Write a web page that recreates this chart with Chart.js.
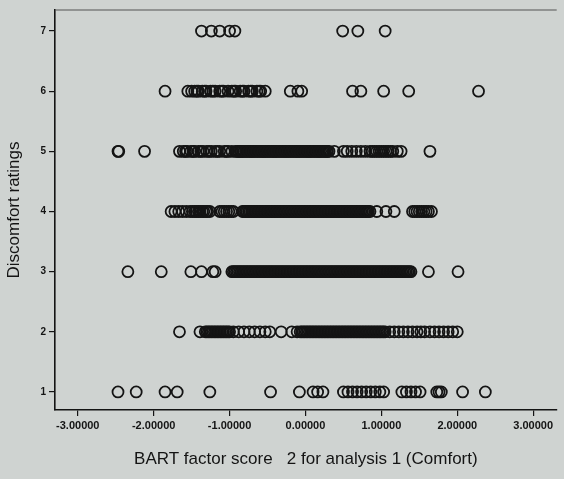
<!DOCTYPE html>
<html>
<head>
<meta charset="utf-8">
<script src="https://cdn.jsdelivr.net/npm/chart.js@4.4.1/dist/chart.umd.min.js"></script>
<style>
  html, body { margin: 0; padding: 0; background: #cfd3d1; }
  #wrap { width: 564px; height: 479px; }
</style>
</head>
<body>
<div id="wrap"><canvas id="scatter" width="564" height="479"></canvas></div>
<script>
const ratings = [1, 2, 3, 4, 5, 6, 7];
const xTickValues = [-3, -2, -1, 0, 1, 2, 3];
const xTickLabels = ['-3.00000', '-2.00000', '-1.00000', '0.00000', '1.00000', '2.00000', '3.00000'];

// factor scores, one list per rating (dense runs overlap heavily)
const scoresRating1 = [-2.47, -2.23, -1.85, -1.69, -1.26, -0.46, -0.08, 0.10, 0.16, 0.23, 0.50, 0.56, 0.62, 0.68, 0.74, 0.80, 0.86, 0.92, 0.98, 1.03, 1.27, 1.33, 1.39, 1.45, 1.51, 1.73, 1.76, 1.79, 2.07, 2.37];
const scoresRating2 = [-1.66, -1.39, -1.32, -1.28, -1.24, -1.20, -1.16, -1.12, -1.08, -1.04, -1.00, -0.95, -0.88, -0.81, -0.74, -0.67, -0.60, -0.53, -0.47, -0.32, -0.18, -0.11, -0.07, -0.03, 0.01, 0.05, 0.09, 0.13, 0.17, 0.21, 0.25, 0.29, 0.33, 0.37, 0.41, 0.45, 0.49, 0.53, 0.57, 0.61, 0.65, 0.69, 0.73, 0.77, 0.81, 0.85, 0.89, 0.93, 0.97, 1.01, 1.05, 1.11, 1.17, 1.23, 1.29, 1.35, 1.41, 1.47, 1.52, 1.57, 1.64, 1.70, 1.76, 1.82, 1.88, 1.94, 2.00,
  -1.30, -1.26, -1.22, -1.18, -1.14, -1.10, -1.06, -1.02, -0.05, -0.01, 0.03, 0.07, 0.11, 0.15, 0.19, 0.23, 0.27, 0.31, 0.35, 0.39, 0.43, 0.47, 0.51, 0.55, 0.59, 0.63, 0.67, 0.71, 0.75, 0.79, 0.83, 0.87, 0.91, 0.95, 0.99, 1.03];
const scoresRating3 = [-2.34, -1.90, -1.51, -1.37, -1.22, -1.19, -0.97, -0.93, -0.89, -0.85, -0.81, -0.77, -0.73, -0.69, -0.65, -0.61, -0.57, -0.53, -0.49, -0.45, -0.41, -0.37, -0.33, -0.29, -0.25, -0.21, -0.17, -0.13, -0.09, -0.05, -0.01, 0.03, 0.07, 0.11, 0.15, 0.19, 0.23, 0.27, 0.31, 0.35, 0.39, 0.43, 0.47, 0.51, 0.55, 0.59, 0.63, 0.67, 0.71, 0.75, 0.79, 0.83, 0.87, 0.91, 0.95, 0.99, 1.03, 1.07, 1.11, 1.15, 1.19, 1.23, 1.27, 1.31, 1.35, 1.39, 1.62, 2.01,
  -0.95, -0.91, -0.87, -0.83, -0.79, -0.75, -0.71, -0.67, -0.63, -0.59, -0.55, -0.51, -0.47, -0.43, -0.39, -0.35, -0.31, -0.27, -0.23, -0.19, -0.15, -0.11, -0.07, -0.03, 0.01, 0.05, 0.09, 0.13, 0.17, 0.21, 0.25, 0.29, 0.33, 0.37, 0.41, 0.45, 0.49, 0.53, 0.57, 0.61, 0.65, 0.69, 0.73, 0.77, 0.81, 0.85, 0.89, 0.93, 0.97, 1.01, 1.05, 1.09, 1.13, 1.17, 1.21, 1.25, 1.29, 1.33, 1.37];
const scoresRating4 = [-1.77, -1.72, -1.67, -1.62, -1.57, -1.52, -1.46, -1.41, -1.36, -1.31, -1.26, -1.13, -1.07, -1.01, -0.95, -0.83, -0.79, -0.75, -0.71, -0.67, -0.63, -0.59, -0.55, -0.51, -0.47, -0.43, -0.39, -0.35, -0.31, -0.27, -0.23, -0.19, -0.15, -0.11, -0.07, -0.03, 0.01, 0.05, 0.09, 0.13, 0.17, 0.21, 0.25, 0.29, 0.33, 0.37, 0.41, 0.45, 0.49, 0.53, 0.57, 0.61, 0.65, 0.69, 0.73, 0.77, 0.81, 0.85, 0.94, 1.06, 1.17, 1.41, 1.47, 1.53, 1.59, 1.66,
  -1.49, -1.44, -1.39, -1.34, -1.29, -1.10, -1.04, -0.98, -0.81, -0.77, -0.73, -0.69, -0.65, -0.61, -0.57, -0.53, -0.49, -0.45, -0.41, -0.37, -0.33, -0.29, -0.25, -0.21, -0.17, -0.13, -0.09, -0.05, -0.01, 0.03, 0.07, 0.11, 0.15, 0.19, 0.23, 0.27, 0.31, 0.35, 0.39, 0.43, 0.47, 0.51, 0.55, 0.59, 0.63, 0.67, 0.71, 0.75, 0.79, 0.83, 1.44, 1.50, 1.56, 1.62];
const scoresRating5 = [-2.47, -2.46, -2.12, -1.66, -1.61, -1.56, -1.51, -1.46, -1.41, -1.35, -1.30, -1.24, -1.19, -1.13, -1.07, -1.02, -0.97, -0.92, -0.88, -0.85, -0.81, -0.77, -0.73, -0.70, -0.66, -0.62, -0.58, -0.55, -0.51, -0.47, -0.43, -0.40, -0.36, -0.32, -0.28, -0.25, -0.21, -0.17, -0.13, -0.10, -0.06, -0.02, 0.02, 0.05, 0.09, 0.13, 0.17, 0.20, 0.24, 0.28, 0.31, 0.38, 0.50, 0.55, 0.61, 0.67, 0.73, 0.79, 0.85, 0.91, 0.97, 1.03, 1.09, 1.15, 1.21, 1.26, 1.64,
  -1.58, -1.48, -1.38, -1.27, -1.16, -1.04, -0.90, -0.86, -0.83, -0.79, -0.75, -0.71, -0.68, -0.64, -0.60, -0.56, -0.53, -0.49, -0.45, -0.41, -0.38, -0.34, -0.30, -0.26, -0.23, -0.19, -0.15, -0.11, -0.08, -0.04, 0.00, 0.04, 0.07, 0.11, 0.15, 0.18, 0.22, 0.26, 0.29, 0.88, 0.94, 1.00, 1.06, 1.12];
const scoresRating6 = [-1.85, -1.55, -1.50, -1.46, -1.41, -1.36, -1.31, -1.25, -1.19, -1.13, -1.08, -1.02, -0.97, -0.92, -0.86, -0.81, -0.75, -0.70, -0.64, -0.59, -0.53, -0.20, -0.10, -0.05, 0.62, 0.73, 1.03, 1.36, 2.28,
  -1.43, -1.33, -1.22, -1.10, -0.94, -0.83, -0.72, -0.61];
const scoresRating7 = [-1.37, -1.24, -1.13, -1.00, -0.93, 0.49, 0.69, 1.05];

const scoresByRating = [scoresRating1, scoresRating2, scoresRating3, scoresRating4, scoresRating5, scoresRating6, scoresRating7];

const points = [];
ratings.forEach((rating, i) => {
  scoresByRating[i].forEach((score) => points.push({ x: score, y: rating }));
});

const INK = '#141414';

const paperBackground = {
  id: 'paperBackground',
  beforeDraw(chart) {
    const { ctx, width, height } = chart;
    ctx.save();
    ctx.fillStyle = '#cfd3d1';
    ctx.fillRect(0, 0, width, height);
    ctx.restore();
  },
};

const topFrame = {
  id: 'topFrame',
  afterDraw(chart) {
    const { ctx, chartArea } = chart;
    ctx.save();
    ctx.strokeStyle = '#555';
    ctx.lineWidth = 1.2;
    ctx.beginPath();
    ctx.moveTo(chartArea.left, chartArea.top);
    ctx.lineTo(chartArea.right, chartArea.top);
    ctx.stroke();
    ctx.restore();
  },
};

new Chart(document.getElementById('scatter'), {
  type: 'scatter',
  data: {
    datasets: [{
      data: points,
      pointStyle: 'circle',
      pointRadius: 5.5,
      pointHoverRadius: 5.5,
      pointBorderWidth: 1.8,
      borderColor: INK,
      backgroundColor: 'rgba(0,0,0,0)',
    }],
  },
  options: {
    responsive: false,
    animation: false,
    layout: { padding: { top: 10, right: 0, left: 0, bottom: 0 } },
    plugins: { legend: { display: false }, tooltip: { enabled: false } },
    scales: {
      x: {
        type: 'linear',
        min: -3.30,
        max: 3.31,
        afterBuildTicks: (scale) => { scale.ticks = xTickValues.map((value) => ({ value })); },
        afterFit: (scale) => { scale.height = 69; scale.paddingLeft = 0; scale.paddingRight = 0; },
        ticks: {
          callback: (value) => xTickLabels[xTickValues.indexOf(value)],
          color: INK,
          padding: 3,
          maxRotation: 0,
          autoSkip: false,
          font: { family: 'Liberation Sans, Arial, sans-serif', size: 11, weight: 'bold' },
        },
        grid: { drawOnChartArea: false, drawTicks: true, tickLength: 6, color: INK, lineWidth: 1.2 },
        border: { display: true, color: INK, width: 1.6 },
        title: {
          display: true,
          text: 'BART factor score   2 for analysis 1 (Comfort)',
          color: INK,
          padding: { top: 4, bottom: 9 },
          font: { family: 'Liberation Sans, Arial, sans-serif', size: 17 },
        },
      },
      y: {
        type: 'linear',
        min: 0.70,
        max: 7.35,
        afterBuildTicks: (scale) => { scale.ticks = ratings.map((value) => ({ value })); },
        afterFit: (scale) => { scale.width = 55; scale.paddingTop = 0; scale.paddingBottom = 0; },
        ticks: {
          color: INK,
          padding: 3,
          font: { family: 'Liberation Sans, Arial, sans-serif', size: 10, weight: 'bold' },
        },
        grid: { drawOnChartArea: false, drawTicks: true, tickLength: 6, color: INK, lineWidth: 1.2 },
        border: { display: true, color: INK, width: 1.6 },
        title: {
          display: true,
          text: 'Discomfort ratings',
          color: INK,
          padding: { top: 4, bottom: 2 },
          font: { family: 'Liberation Sans, Arial, sans-serif', size: 17 },
        },
      },
    },
  },
  plugins: [paperBackground, topFrame],
});
</script>
</body>
</html>
